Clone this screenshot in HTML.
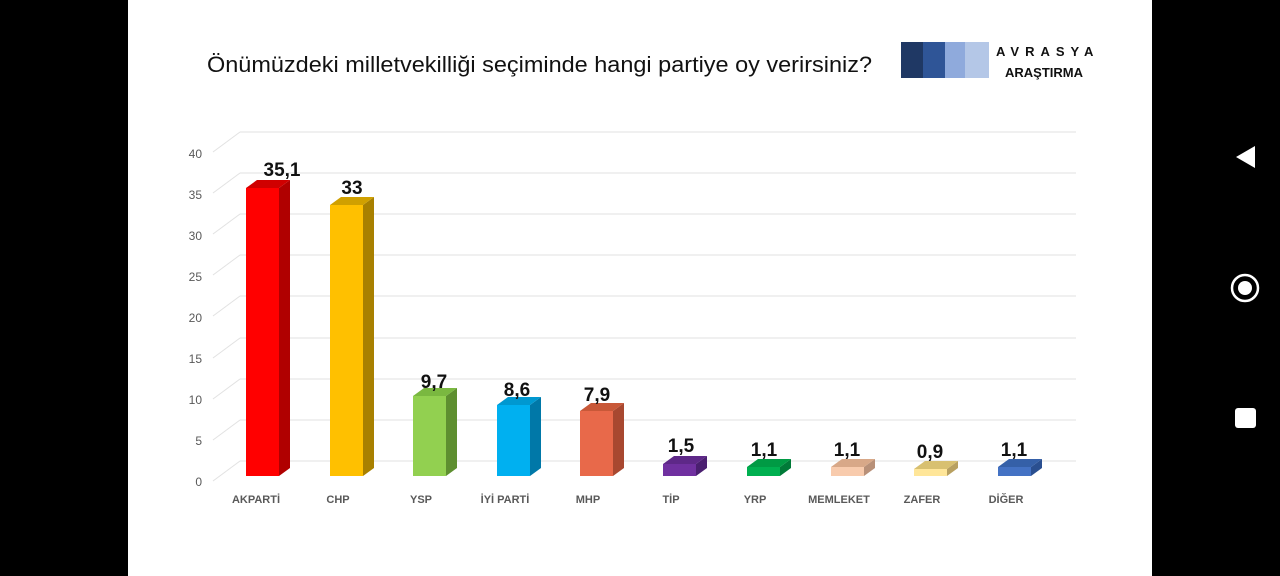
<!DOCTYPE html>
<html><head><meta charset="utf-8"><style>
html,body{margin:0;padding:0;background:#000;width:1280px;height:576px;overflow:hidden}
svg{display:block}
</style></head><body>
<svg width="1280" height="576" xmlns="http://www.w3.org/2000/svg" font-family="Liberation Sans, sans-serif">
<rect x="0" y="0" width="1280" height="576" fill="#000"/>
<rect x="128" y="0" width="1024" height="576" fill="#fff"/>
<text x="207" y="72" font-size="22" fill="#111" textLength="665" lengthAdjust="spacingAndGlyphs">Önümüzdeki milletvekilliği seçiminde hangi partiye oy verirsiniz?</text>
<rect x="901" y="42" width="22" height="36" fill="#1f3864"/>
<rect x="923" y="42" width="22" height="36" fill="#2f5597"/>
<rect x="945" y="42" width="20" height="36" fill="#8faadc"/>
<rect x="965" y="42" width="24" height="36" fill="#b4c7e7"/>
<text x="996" y="56" font-size="13" font-weight="bold" letter-spacing="6" fill="#111">AVRASYA</text>
<text x="1005" y="77" font-size="13" font-weight="bold" fill="#111">ARAŞTIRMA</text>
<g stroke="#e2e2e2" stroke-width="1" fill="none">
<line x1="240" y1="132" x2="1076" y2="132"/><line x1="213" y1="152" x2="240" y2="132"/>
<line x1="240" y1="173" x2="1076" y2="173"/><line x1="213" y1="193" x2="240" y2="173"/>
<line x1="240" y1="214" x2="1076" y2="214"/><line x1="213" y1="234" x2="240" y2="214"/>
<line x1="240" y1="255" x2="1076" y2="255"/><line x1="213" y1="275" x2="240" y2="255"/>
<line x1="240" y1="296" x2="1076" y2="296"/><line x1="213" y1="316" x2="240" y2="296"/>
<line x1="240" y1="338" x2="1076" y2="338"/><line x1="213" y1="358" x2="240" y2="338"/>
<line x1="240" y1="379" x2="1076" y2="379"/><line x1="213" y1="399" x2="240" y2="379"/>
<line x1="240" y1="420" x2="1076" y2="420"/><line x1="213" y1="440" x2="240" y2="420"/>
<line x1="240" y1="461" x2="1076" y2="461"/><line x1="213" y1="481" x2="240" y2="461"/>
</g>
<g font-size="12" fill="#595959" text-anchor="end">
<text x="202" y="158">40</text><text x="202" y="199">35</text><text x="202" y="240">30</text>
<text x="202" y="281">25</text><text x="202" y="322">20</text><text x="202" y="363">15</text>
<text x="202" y="404">10</text><text x="202" y="445">5</text><text x="202" y="486">0</text>
</g>
<g fill="#fff"><polygon points="1236,157 1255,146 1255,168"/></g>
<circle cx="1245" cy="288" r="13" fill="none" stroke="#fff" stroke-width="2.5"/>
<circle cx="1245" cy="288" r="7" fill="#fff"/>
<rect x="1235" y="408" width="21" height="20" rx="3" fill="#fff"/>
<g font-size="11" font-weight="bold" fill="#595959" text-anchor="middle">
<text x="256" y="503">AKPARTİ</text><text x="338" y="503">CHP</text><text x="421" y="503">YSP</text>
<text x="505" y="503">İYİ PARTİ</text><text x="588" y="503">MHP</text><text x="671" y="503">TİP</text>
<text x="755" y="503">YRP</text><text x="839" y="503">MEMLEKET</text><text x="922" y="503">ZAFER</text><text x="1006" y="503">DİĞER</text>
</g>
<g stroke="none">
<polygon points="246,476 279,476 279,188 246,188" fill="#ff0000"/><polygon points="279,476 290,468 290,180 279,188" fill="#b00000"/><polygon points="246,188 279,188 290,180 257,180" fill="#d00000"/>
<polygon points="330,476 363,476 363,205 330,205" fill="#ffc000"/><polygon points="363,476 374,468 374,197 363,205" fill="#a88000"/><polygon points="330,205 363,205 374,197 341,197" fill="#d0a000"/>
<polygon points="413,476 446,476 446,396 413,396" fill="#92d050"/><polygon points="446,476 457,468 457,388 446,396" fill="#5e8f30"/><polygon points="413,396 446,396 457,388 424,388" fill="#7ab840"/>
<polygon points="497,476 530,476 530,405 497,405" fill="#00b0f0"/><polygon points="530,476 541,468 541,397 530,405" fill="#0078a8"/><polygon points="497,405 530,405 541,397 508,397" fill="#0098d0"/>
<polygon points="580,476 613,476 613,411 580,411" fill="#e8694a"/><polygon points="613,476 624,468 624,403 613,411" fill="#a84830"/><polygon points="580,411 613,411 624,403 591,403" fill="#c85838"/>
<polygon points="663,476 696,476 696,464 663,464" fill="#7030a0"/><polygon points="696,476 707,468 707,456 696,464" fill="#4a1f70"/><polygon points="663,464 696,464 707,456 674,456" fill="#5e2888"/>
<polygon points="747,476 780,476 780,467 747,467" fill="#00b050"/><polygon points="780,476 791,468 791,459 780,467" fill="#007a38"/><polygon points="747,467 780,467 791,459 758,459" fill="#009a44"/>
<polygon points="831,476 864,476 864,467 831,467" fill="#f8cbad"/><polygon points="864,476 875,468 875,459 864,467" fill="#b89078"/><polygon points="831,467 864,467 875,459 842,459" fill="#d8a888"/>
<polygon points="914,476 947,476 947,469 914,469" fill="#ffe699"/><polygon points="947,476 958,468 958,461 947,469" fill="#b8a060"/><polygon points="914,469 947,469 958,461 925,461" fill="#d8c070"/>
<polygon points="998,476 1031,476 1031,467 998,467" fill="#4472c4"/><polygon points="1031,476 1042,468 1042,459 1031,467" fill="#2a4f90"/><polygon points="998,467 1031,467 1042,459 1009,459" fill="#3560a8"/>
</g>
<g font-size="19" font-weight="bold" fill="#111" text-anchor="middle">
<text x="282" y="176">35,1</text><text x="352" y="194">33</text><text x="434" y="388">9,7</text>
<text x="517" y="396">8,6</text><text x="597" y="401">7,9</text><text x="681" y="452">1,5</text>
<text x="764" y="456">1,1</text><text x="847" y="456">1,1</text><text x="930" y="458">0,9</text><text x="1014" y="456">1,1</text>
</g>
</svg>
</body></html>
